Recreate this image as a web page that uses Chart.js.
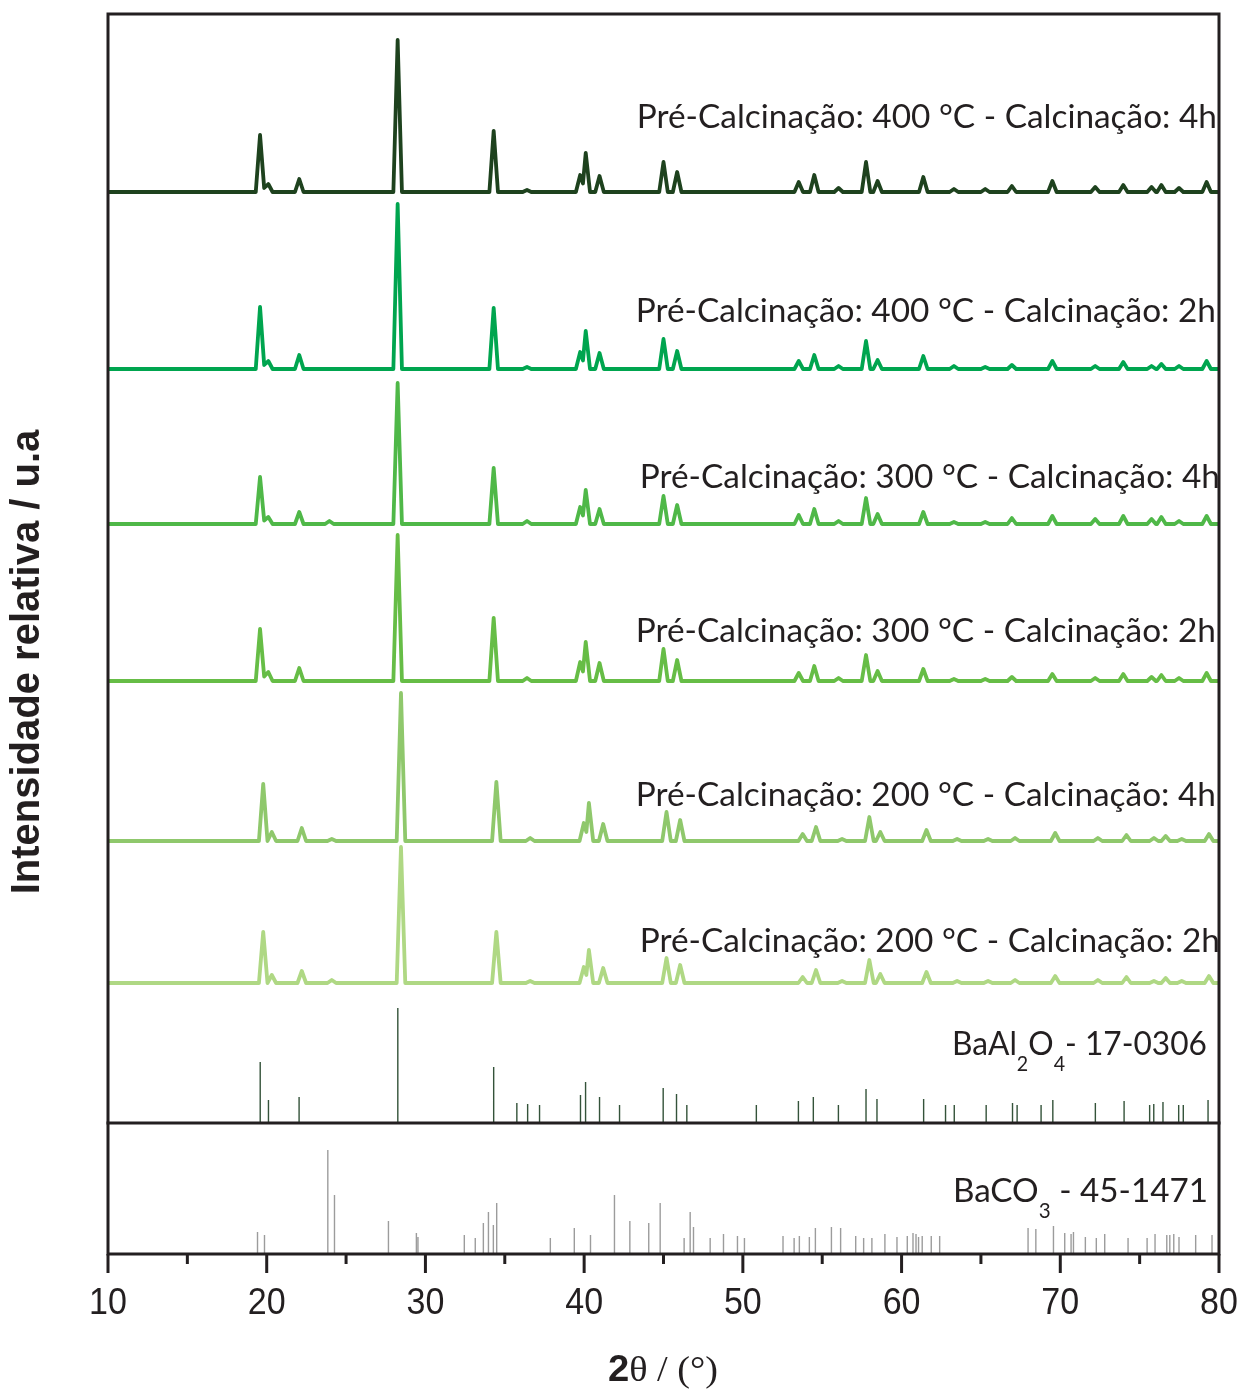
<!DOCTYPE html>
<html lang="pt">
<head>
  <meta charset="UTF-8">
  <title>DRX BaAl2O4</title>
  <script src="https://cdn.jsdelivr.net/npm/chart.js"></script>
  <style>
    body { margin: 0; background: #fff; }
  </style>
</head>
<body>
  <canvas id="xrd" width="1243" height="1389"></canvas>

  <script>
    var peakPos = [19.58, 20.10, 22.05, 23.95, 28.25, 34.30, 36.40, 39.75, 40.10, 40.97, 45.00, 45.86,
                   53.52, 54.50, 56.03, 57.76, 58.49, 61.37, 63.30, 65.27, 66.95, 69.50, 72.20, 73.97,
                   75.75, 76.37, 77.48, 79.22];
    var peakPos200 = [19.78, 20.32, 22.21, 24.10, 28.46, 34.47, 36.60, 39.98, 40.30, 41.20, 45.19, 46.05,
                      53.77, 54.61, 56.25, 57.97, 58.66, 61.57, 63.50, 65.45, 67.15, 69.68, 72.37, 74.17,
                      75.90, 76.64, 77.65, 79.37];

    // peak heights (relative units) for each sample
    var h400_4h = [57, 8, 13, 0, 152, 61, 2, 17, 39, 16, 30, 20, 10, 17, 4, 30, 11, 15, 3, 3, 6, 11, 5, 7, 5, 7, 4, 10];
    var h400_2h = [62, 8, 14, 0, 165, 61, 2, 17, 38, 16, 30, 18, 8, 14, 3, 28, 9, 13, 3, 2, 4, 8, 3, 7, 3, 5, 3, 8];
    var h300_4h = [47, 7, 12, 3, 141, 56, 3, 17, 34, 15, 28, 19, 9, 15, 3, 26, 10, 12, 2, 2, 6, 8, 5, 8, 5, 7, 3, 8];
    var h300_2h = [52, 9, 13, 0, 146, 63, 3, 19, 39, 18, 32, 21, 8, 15, 3, 26, 10, 12, 2, 2, 4, 7, 3, 7, 4, 6, 3, 8];
    var h200_4h = [57, 9, 13, 2, 148, 59, 3, 18, 38, 17, 29, 21, 7, 14, 2, 24, 9, 11, 2, 2, 3, 8, 3, 6, 3, 5, 2, 7];
    var h200_2h = [51, 8, 12, 3, 136, 51, 2, 16, 33, 15, 25, 18, 6, 13, 2, 23, 9, 11, 2, 2, 3, 7, 3, 6, 2, 5, 2, 7];

    // vertical offsets of the stacked patterns
    var offsets = [1062, 885, 730, 573, 413, 271];
    var offsetBaAl = 131;
    var offsetBaCO = 0;

    var sampleLabels = [
      'Pré-Calcinação: 400 °C - Calcinação: 4h',
      'Pré-Calcinação: 400 °C - Calcinação: 2h',
      'Pré-Calcinação: 300 °C - Calcinação: 4h',
      'Pré-Calcinação: 300 °C - Calcinação: 2h',
      'Pré-Calcinação: 200 °C - Calcinação: 4h',
      'Pré-Calcinação: 200 °C - Calcinação: 2h'
    ];

    // reference cards
    var baAlPos = [19.59, 20.11, 22.04, 28.26, 34.30, 35.76, 36.44, 37.19, 39.77, 40.09, 40.97, 42.23, 44.98,
                   45.82, 46.47, 50.85, 53.50, 54.44, 56.02, 57.76, 58.45, 61.39, 62.77, 63.32, 65.33, 66.99,
                   67.28, 68.79, 69.53, 72.21, 74.02, 75.63, 75.89, 76.47, 77.46, 77.75, 79.31];
    var baAlInt = [61, 23, 26, 115, 56, 20, 19, 18, 28, 41, 26, 18, 35, 29, 18, 18, 22, 26, 18, 34, 24, 24,
                   18, 18, 18, 20, 18, 18, 23, 20, 22, 18, 19, 21, 18, 18, 23];
    var baCOPos = [19.42, 19.86, 23.85, 24.27, 27.67, 29.43, 29.53, 32.45, 33.14, 33.65, 33.97, 34.28, 34.49,
                   37.87, 39.38, 40.40, 41.91, 42.88, 44.07, 44.79, 46.30, 46.68, 46.89, 47.94, 48.78, 49.66,
                   50.10, 52.53, 53.23, 53.56, 54.19, 54.57, 55.58, 56.16, 57.11, 57.61, 58.13, 58.95, 59.71,
                   60.36, 60.72, 60.91, 61.07, 61.30, 61.87, 62.40, 67.97, 68.46, 69.57, 70.28, 70.68, 70.83,
                   71.58, 72.27, 72.80, 74.27, 75.47, 75.97, 76.71, 76.90, 77.15, 77.48, 78.53, 79.56];
    var baCOInt = [22, 19, 104, 59, 33, 21, 17, 19, 16, 31, 42, 29, 51, 16, 26, 19, 59, 33, 31, 51, 16, 42,
                   27, 16, 20, 18, 16, 18, 16, 18, 17, 26, 27, 26, 18, 16, 16, 20, 17, 18, 21, 20, 17, 18,
                   18, 18, 26, 25, 28, 21, 20, 22, 17, 16, 20, 16, 16, 20, 19, 19, 20, 17, 19, 19];

    var xTicks = [10, 20, 30, 40, 50, 60, 70, 80];

    var traceColors = ['#1e421e', '#00a54f', '#4fb848', '#66bd46', '#8fc86c', '#afd884'];

    // half width of a peak at its foot, in degrees
    var W = 0.27;

    function buildTrace(pos, hts, base) {
      var pts = [{ x: 10, y: base }];
      var prev = null;
      pos.forEach(function (p, i) {
        var h = hts[i];
        if (!h) return;
        if (prev && p - W < prev.p + W) {
          pts.pop();
          pts.push({ x: (prev.p + p) / 2, y: base + Math.min(prev.h, h) * 0.5 });
        } else {
          pts.push({ x: p - W, y: base });
        }
        pts.push({ x: p, y: base + h });
        pts.push({ x: p + W, y: base });
        prev = { p: p, h: h };
      });
      pts.push({ x: 80, y: base });
      return pts;
    }

    function buildSticks(pos, ints, base) {
      var pts = [];
      pos.forEach(function (p, i) {
        pts.push({ x: p, y: base });
        pts.push({ x: p, y: base + ints[i] });
        pts.push({ x: p, y: null });
      });
      return pts;
    }

    var traceHeights = [h400_4h, h400_2h, h300_4h, h300_2h, h200_4h, h200_2h];
    var tracePos = [peakPos, peakPos, peakPos, peakPos, peakPos200, peakPos200];

    var datasets = traceHeights.map(function (hts, i) {
      return {
        label: sampleLabels[i],
        data: buildTrace(tracePos[i], hts, offsets[i]),
        borderColor: traceColors[i],
        borderWidth: 3.8,
        borderJoinStyle: 'round',
        borderCapStyle: 'round'
      };
    });
    datasets.push({
      label: 'BaAl2O4 - 17-0306',
      data: buildSticks(baAlPos, baAlInt, offsetBaAl),
      borderColor: '#34533a',
      borderWidth: 1.4
    });
    datasets.push({
      label: 'BaCO3 - 45-1471',
      data: buildSticks(baCOPos, baCOInt, offsetBaCO),
      borderColor: '#9c9c9c',
      borderWidth: 1.4
    });

    var ink = '#231f20';

    // frame, ticks and all the texts
    var decorations = {
      id: 'decorations',
      afterDraw: function (chart) {
        var ctx = chart.ctx;
        var a = chart.chartArea;
        var xs = chart.scales.x;
        var ys = chart.scales.y;
        ctx.save();

        // frame + divider between the two reference cards
        ctx.strokeStyle = ink;
        ctx.lineWidth = 3;
        ctx.lineCap = 'square';
        ctx.strokeRect(a.left, a.top, a.right - a.left, a.bottom - a.top);
        var yDiv = ys.getPixelForValue(offsetBaAl);
        ctx.beginPath();
        ctx.moveTo(a.left, yDiv);
        ctx.lineTo(a.right, yDiv);
        ctx.stroke();

        // bottom ticks, major every 10 and minor every 5
        ctx.lineCap = 'butt';
        for (var v = 10; v <= 80; v += 5) {
          var px = xs.getPixelForValue(v);
          ctx.beginPath();
          ctx.moveTo(px, a.bottom);
          ctx.lineTo(px, a.bottom + (v % 10 === 0 ? 19 : 10));
          ctx.stroke();
        }

        // tick labels
        ctx.fillStyle = ink;
        ctx.font = '37px "Liberation Sans", Arial, sans-serif';
        ctx.textAlign = 'center';
        ctx.textBaseline = 'alphabetic';
        xTicks.forEach(function (t) {
          ctx.save();
          ctx.translate(xs.getPixelForValue(t), 1314);
          ctx.scale(0.92, 1);
          ctx.fillText(String(t), 0, 0);
          ctx.restore();
        });

        // x title: bold 2 + serif theta
        ctx.save();
        ctx.font = 'bold 36px "Liberation Sans", Arial, sans-serif';
        var w2 = ctx.measureText('2').width;
        ctx.font = '36px "Liberation Serif", "Times New Roman", serif';
        var wRest = ctx.measureText('θ / (°)').width;
        var sx = 110 / (w2 + wRest);
        ctx.translate(663 - 55, 1381);
        ctx.scale(sx, 1);
        ctx.textAlign = 'left';
        ctx.font = 'bold 36px "Liberation Sans", Arial, sans-serif';
        ctx.fillText('2', 0, 0);
        ctx.font = '36px "Liberation Serif", "Times New Roman", serif';
        ctx.fillText('θ / (°)', w2, 0);
        ctx.restore();

        // y title
        ctx.save();
        ctx.translate(28, 662);
        ctx.rotate(-Math.PI / 2);
        ctx.font = 'bold 40px "Liberation Sans", Arial, sans-serif';
        ctx.textAlign = 'center';
        ctx.textBaseline = 'middle';
        ctx.fillText('Intensidade relativa / u.a', 0, 0, 465);
        ctx.restore();

        // sample labels, sized so the first one spans like the original
        ctx.font = '30px Lato, "Open Sans", sans-serif';
        var size = 30 * 580 / ctx.measureText(sampleLabels[0]).width;
        var fontMain = size.toFixed(1) + 'px Lato, "Open Sans", sans-serif';
        var fontSub = (size * 0.62).toFixed(1) + 'px Lato, "Open Sans", sans-serif';
        var labelRight = [1217, 1216, 1220, 1216, 1216, 1220];
        var labelBase = [128, 322, 488, 642, 806, 952];
        ctx.font = fontMain;
        ctx.textAlign = 'right';
        sampleLabels.forEach(function (txt, i) {
          ctx.fillText(txt, labelRight[i], labelBase[i]);
        });

        // card labels with subscripts
        function chem(parts, right, base) {
          var total = 0;
          parts.forEach(function (p) {
            ctx.font = p[1] ? fontSub : fontMain;
            total += ctx.measureText(p[0]).width;
          });
          var sc = Math.min(1, 255 / total);
          ctx.save();
          ctx.translate(right - total * sc, base);
          ctx.scale(sc, 1);
          ctx.textAlign = 'left';
          var x = 0;
          parts.forEach(function (p) {
            ctx.font = p[1] ? fontSub : fontMain;
            ctx.fillText(p[0], x, p[1] ? 16 : 0);
            x += ctx.measureText(p[0]).width;
          });
          ctx.restore();
        }
        chem([['BaAl', 0], ['2', 1], ['O', 0], ['4', 1], ['- 17-0306', 0]], 1207, 1055);
        chem([['BaCO', 0], ['3', 1], [' - 45-1471', 0]], 1208, 1202);

        ctx.restore();
      }
    };

    new Chart(document.getElementById('xrd').getContext('2d'), {
      type: 'line',
      data: { datasets: datasets },
      options: {
        responsive: false,
        animation: false,
        devicePixelRatio: 1,
        layout: { padding: { top: 14, right: 24, left: 0, bottom: 0 } },
        elements: {
          point: { radius: 0 },
          line: { tension: 0, fill: false }
        },
        plugins: {
          legend: { display: false },
          tooltip: { enabled: false }
        },
        scales: {
          x: {
            type: 'linear',
            min: 10,
            max: 80,
            ticks: { display: false, stepSize: 5 },
            grid: { display: false },
            border: { display: false },
            afterFit: function (s) { s.height = 135; }
          },
          y: {
            type: 'linear',
            min: 0,
            max: 1240,
            ticks: { display: false },
            grid: { display: false },
            border: { display: false },
            afterFit: function (s) { s.width = 108; }
          }
        }
      },
      plugins: [decorations]
    });
  </script>
</body>
</html>
